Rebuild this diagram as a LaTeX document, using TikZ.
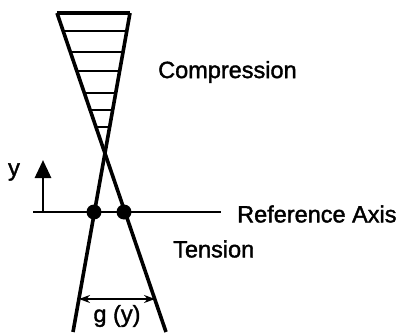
\documentclass[tikz,border=0pt]{standalone}
\usepackage{fontspec}
\setmainfont{Liberation Sans}
\newfontfamily\heavysans{Liberation Sans}[FakeBold=1.6]
\usetikzlibrary{arrows.meta,calc}
\begin{document}
\begin{tikzpicture}[x=1pt,y=-1pt,
  lbl/.style={font=\heavysans\fontsize{23.5}{28}\selectfont, inner sep=0pt},
  thick line/.style={line width=3.6pt},
  hatch/.style={line width=2.5pt},
  dotmark/.style={circle, fill=black, minimum size=15pt, inner sep=0pt}]
\useasboundingbox (0,0) rectangle (401,334);
% vertices
\coordinate (TL) at (57,13);
\coordinate (TR) at (130,13);
\coordinate (BR) at (166,332);
\coordinate (BL) at (73,332);
% wedge lines
\draw[thick line] (TL) -- (BR);
\draw[thick line] (TR) -- (BL);
\draw[thick line] (TL) -- (TR);
% hatching
\foreach \yy in {31,52,71,93,110,127}{
  \pgfmathsetmacro{\xa}{57+(\yy-13)*109/319}
  \pgfmathsetmacro{\xb}{130-(\yy-13)*57/319}
  \draw[hatch] (\xa,\yy) -- (\xb,\yy);
}
% reference axis
\coordinate (AL) at (33,212);
\coordinate (AR) at (221,212);
\draw[line width=2.8pt] (AL) -- (AR);
\node[dotmark] (d1) at (94,212) {};
\node[dotmark] (d2) at (124,212) {};
% y arrow
\coordinate (YB) at (43,212);
\coordinate (YT) at (43,160);
\draw[line width=2.8pt, -{Triangle[length=18pt,width=16pt]}] (YB) -- (YT);
\node[lbl, anchor=center] (ylab) at (14,172) {y};
% g(y) arrow
\coordinate (GL) at (79,299);
\coordinate (GR) at (155,299);
\draw[line width=2.2pt, {Stealth[length=11pt,width=8pt]}-{Stealth[length=11pt,width=8pt]}] (GL) -- (GR);
\node[lbl] (glab) at (117,316) {g (y)};
% labels
\node[lbl, anchor=west] (comp) at (158,72) {Compression};
\node[lbl, anchor=west] (ref) at (237,214) {Reference Axis};
\node[lbl, anchor=west] (tens) at (173,249) {Tension};
\end{tikzpicture}
\end{document}
